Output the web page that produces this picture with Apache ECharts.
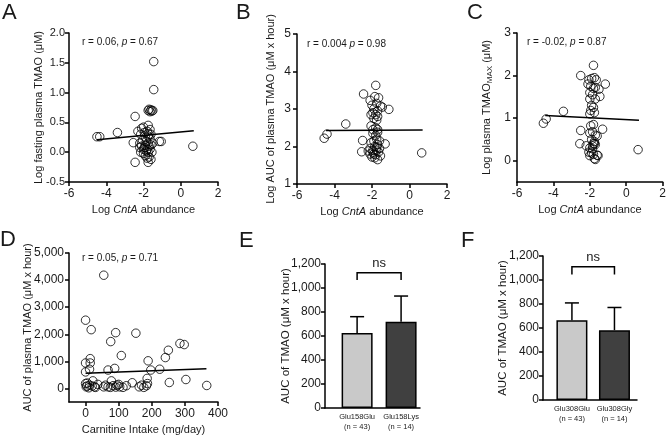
<!DOCTYPE html>
<html>
<head>
<meta charset="utf-8">
<script src="https://cdn.jsdelivr.net/npm/echarts@6/dist/echarts.min.js"></script>
<style>
  html, body { margin: 0; padding: 0; background: #fff; }
  #chart { width: 669px; height: 436px; }
</style>
</head>
<body>
<div id="chart"></div>
<script>
// panel A: log CntA vs log fasting TMAO
const aPoints = [
  [-4.5,0.26],[-4.35,0.26],[-3.4,0.33],[-2.45,0.6],[-2.55,0.16],[-2.45,-0.17],[-1.45,1.52],[-1.45,1.05],
  [-1.75,0.7],[-1.7,0.72],[-1.65,0.68],[-1.6,0.71],[-1.55,0.69],[-1.5,0.7],
  [0.65,0.1],[-1.15,0.18],[-1.05,0.18],
  [-2.1,0.4],[-2.0,0.42],[-1.75,0.45],[-2.15,0.3],[-1.95,0.33],[-1.8,0.35],[-1.7,0.3],[-1.6,0.3],
  [-2.2,0.15],[-2.05,0.2],[-1.9,0.25],[-1.75,0.27],[-1.65,0.22],[-2.2,0.08],[-2.1,0.1],[-2.0,0.05],
  [-1.9,0.12],[-1.85,0.18],[-1.75,0.15],[-1.6,0.12],[-1.5,0.15],[-2.15,0.0],[-2.0,-0.02],[-1.85,0.02],
  [-1.75,0.0],[-1.65,0.05],[-1.9,-0.06],[-1.8,-0.1],[-1.7,-0.08],[-1.75,-0.17],[-1.6,-0.12],[-1.95,0.08],
  [-1.55,0.0],[-2.3,0.35],[-1.65,0.38],[-1.8,0.05],[-1.7,0.1]
];
const aFit = [[-4.5, 0.21], [0.7, 0.36]];

// panel B: log CntA vs log AUC TMAO
const bPoints = [
  [-4.55,2.22],[-4.4,2.33],[-3.4,2.6],[-2.45,3.4],[-2.5,2.16],[-2.55,1.86],[0.65,1.83],[-1.8,3.63],
  [-2.1,3.23],[-1.85,3.33],[-1.65,3.3],[-1.45,3.05],[-1.1,2.99],[-1.55,3.08],[-2.0,3.1],[-1.9,3.0],
  [-1.75,3.15],[-1.7,2.95],[-2.05,2.85],[-1.95,2.9],[-1.8,2.85],[-1.7,2.8],[-1.9,2.75],[-1.75,2.7],
  [-2.05,2.55],[-1.95,2.45],[-1.8,2.5],[-1.7,2.45],[-1.95,2.35],[-1.8,2.3],[-1.7,2.38],
  [-2.05,2.1],[-1.9,2.15],[-1.75,2.2],[-1.7,2.05],[-1.85,2.0],[-1.75,1.98],[-2.1,1.95],[-1.95,1.9],
  [-1.6,1.95],[-1.3,2.07],[-2.1,1.8],[-1.95,1.85],[-1.8,1.78],[-1.65,1.85],[-1.55,1.75],[-2.0,1.72],
  [-1.85,1.7],[-1.7,1.65],[-1.9,1.8],[-1.75,1.9],[-2.2,1.88],[-1.6,2.15]
];
const bFit = [[-4.45, 2.43], [0.7, 2.44]];

// panel C: log CntA vs log TMAO max
const cPoints = [
  [-4.55,0.88],[-4.4,0.98],[-3.45,1.16],[-2.5,2.0],[-2.55,0.4],[-2.5,0.71],[0.65,0.26],[-1.8,2.24],
  [-2.05,1.9],[-1.9,1.93],[-1.75,1.95],[-1.65,1.9],[-1.15,1.8],[-2.1,1.8],[-1.95,1.75],[-1.8,1.7],
  [-1.7,1.72],[-1.5,1.68],[-2.0,1.6],[-1.85,1.55],[-1.7,1.45],[-1.45,1.51],[-2.0,1.45],[-1.9,1.3],
  [-1.8,1.25],[-1.95,1.18],[-1.75,1.13],[-2.0,1.1],
  [-1.8,0.85],[-1.95,0.82],[-1.3,0.74],[-2.0,0.65],[-1.85,0.68],[-1.7,0.6],[-1.6,0.58],[-1.9,0.5],
  [-1.75,0.45],[-1.8,0.4],[-1.7,0.38],[-2.2,0.35],[-2.0,0.3],[-1.85,0.28],[-1.75,0.4],[-2.05,0.2],
  [-1.9,0.18],[-1.8,0.15],[-1.6,0.13],[-2.0,0.12],[-1.75,0.05],[-1.7,0.03],[-1.55,0.12],[-1.85,0.35]
];
const cFit = [[-4.45, 1.06], [0.7, 0.95]];

// panel D: carnitine intake vs AUC TMAO
const dPoints = [
  [55,4180],[0,2520],[17,2170],[91,2060],[76,1730],[152,2040],[108,1215],[14,1100],[0,940],[14,940],
  [12,710],[0,610],[68,680],[88,740],[189,1020],[250,1410],[241,1140],[285,1660],[298,1620],[197,680],
  [224,710],[186,370],[303,330],[253,220],[366,110],[141,210],
  [0,180],[4,90],[10,25],[22,280],[27,60],[37,150],[68,60],[78,280],[83,100],[95,120],[103,60],
  [113,40],[123,100],[162,60],[169,120],[176,40],[184,100],[187,180],[2,60],[12,120],[55,60],[91,50],
  [5,200],[30,40],[60,120],[75,40],[100,150],[20,90]
];
const dFit = [[0, 565], [365, 725]];

// panel E / F: genotype bars (mean, SD)
const eCategories = ['Glu158Glu', 'Glu158Lys'];
const eCounts = [43, 14];
const eMeans = [625, 719];
const eSD = [136, 214];

const fCategories = ['Glu308Glu', 'Glu308Gly'];
const fCounts = [43, 14];
const fMeans = [665, 582];
const fSD = [144, 189];

const yTicksD = [0, 1000, 2000, 3000, 4000, 5000];
const xTicksD = [0, 100, 200, 300, 400];
const yTicksC = [0, 1, 2, 3];

const FONT = 'Liberation Sans, Arial, sans-serif';
const INK = '#1a1a1a';
const axisLine = { show: true, onZero: false, lineStyle: { color: '#000', width: 1.5 } };
const axisTick = { show: true, length: 4, lineStyle: { color: '#000', width: 1.5 } };
const tickLabel = { color: INK, fontSize: 12, fontFamily: FONT };
const nameStyle = { color: INK, fontSize: 11, fontFamily: FONT, rich: { i: { fontStyle: 'italic', fontSize: 11, fontFamily: FONT } } };

function comma(v) { return v.toLocaleString('en-US'); }

function scatterAxisX(grid, name) {
  return {
    gridIndex: grid, type: 'value', min: -6, max: 2, interval: 2,
    axisLine, axisTick, splitLine: { show: false },
    axisLabel: Object.assign({ margin: 6 }, tickLabel),
    name, nameLocation: 'middle', nameGap: 22, nameMoveOverlap: false, nameTextStyle: nameStyle
  };
}

const scatterStyle = { color: 'rgba(0,0,0,0)', borderColor: '#000', borderWidth: 1 };
function scatter(idx, data) {
  return { type: 'scatter', xAxisIndex: idx, yAxisIndex: idx, data, symbol: 'circle', symbolSize: 8.5, itemStyle: scatterStyle, z: 3 };
}
function fitLine(idx, data) {
  return { type: 'line', xAxisIndex: idx, yAxisIndex: idx, data, symbol: 'none', lineStyle: { color: '#000', width: 1.5 }, z: 4 };
}

function errorBars(idx, means, sd) {
  return {
    type: 'custom', xAxisIndex: idx, yAxisIndex: idx, z: 5,
    data: means.map((m, i) => [i, m, sd[i]]),
    renderItem(params, api) {
      const p0 = api.coord([api.value(0), api.value(1)]);
      const p1 = api.coord([api.value(0), api.value(1) + api.value(2)]);
      const st = { stroke: '#000', lineWidth: 1.5 };
      return { type: 'group', children: [
        { type: 'line', shape: { x1: p0[0], y1: p0[1], x2: p1[0], y2: p1[1] }, style: st },
        { type: 'line', shape: { x1: p1[0] - 7, y1: p1[1], x2: p1[0] + 7, y2: p1[1] }, style: st }
      ] };
    }
  };
}

function bracket(idx, level, drop) {
  return {
    type: 'custom', xAxisIndex: idx, yAxisIndex: idx, z: 5,
    data: [[0, 1, level, drop]],
    renderItem(params, api) {
      const a = api.coord([api.value(0), api.value(2)]);
      const b = api.coord([api.value(1), api.value(2)]);
      const c = api.coord([api.value(0), api.value(2) - api.value(3)]);
      return { type: 'group', children: [
        { type: 'polyline', shape: { points: [[a[0], c[1]], a, b, [b[0], c[1]]] }, style: { stroke: '#000', lineWidth: 1.5, fill: null } },
        { type: 'text', x: (a[0] + b[0]) / 2, y: a[1] - 3, style: { text: 'ns', font: '13px ' + FONT, fill: INK, align: 'center', verticalAlign: 'bottom' } }
      ] };
    }
  };
}

function bars(idx, means) {
  return {
    type: 'bar', xAxisIndex: idx, yAxisIndex: idx, barWidth: 31,
    data: means.map((m, i) => [i, m]),
    itemStyle: { color: p => p.dataIndex ? '#404040' : '#c9c9c9', borderColor: '#000', borderWidth: 1.5 }
  };
}

function barAxisX(grid, min, max, cats, counts) {
  return {
    gridIndex: grid, type: 'value', min, max,
    axisLine, axisTick: { show: false }, splitLine: { show: false },
    axisLabel: {
      customValues: [0, 1], color: INK, fontSize: 7.5, fontFamily: FONT, lineHeight: 10, margin: 4,
      hideOverlap: false,
      formatter: v => cats[v] + '\n(n = ' + counts[v] + ')'
    }
  };
}
function barAxisY(grid, gap) {
  return {
    gridIndex: grid, type: 'value', min: 0, max: 1200, interval: 200,
    axisLine, axisTick, splitLine: { show: false },
    axisLabel: Object.assign({}, tickLabel, { margin: 4, formatter: comma }),
    name: 'AUC of TMAO (\u03bcM x hour)', nameLocation: 'middle', nameGap: gap, nameMoveOverlap: false,
    nameTextStyle: Object.assign({}, nameStyle, { fontSize: 11.5 })
  };
}

const letters = [['A', 2, 2], ['B', 236, 2], ['C', 467, 2], ['D', 0, 229], ['E', 239, 230], ['F', 461, 230]];
const stats = [
  ['r = 0.06, {i|p} = 0.67', 82, 37],
  ['r = 0.004 {i|p} = 0.98', 307, 39],
  ['r = -0.02, {i|p} = 0.87', 527, 37],
  ['r = 0.05, {i|p} = 0.71', 82, 253]
];

const option = {
  animation: false,
  backgroundColor: '#fff',
  textStyle: { fontFamily: FONT },
  title: letters.map(l => ({ text: l[0], left: l[1], top: l[2], padding: 0, textStyle: { fontSize: 22, fontWeight: 'normal', color: INK, fontFamily: FONT } }))
    .concat(stats.map(s => ({ text: s[0], left: s[1], top: s[2], padding: 0,
      textStyle: { fontSize: 10, fontWeight: 'normal', color: INK, fontFamily: FONT, rich: { i: { fontStyle: 'italic', fontSize: 10, fontFamily: FONT } } } }))),
  grid: [
    { left: 69, top: 33, width: 149, height: 149 },
    { left: 297, top: 34, width: 150, height: 150 },
    { left: 517, top: 33, width: 149, height: 149 },
    { left: 69, top: 253, width: 149, height: 149 },
    { left: 325, top: 264, width: 95, height: 144 },
    { left: 543, top: 256, width: 94, height: 144 }
  ],
  xAxis: [
    scatterAxisX(0, 'Log {i|CntA} abundance'),
    scatterAxisX(1, 'Log {i|CntA} abundance'),
    scatterAxisX(2, 'Log {i|CntA} abundance'),
    {
      gridIndex: 3, type: 'value', min: -50, max: 400,
      axisLine, axisTick: Object.assign({ customValues: xTicksD }, axisTick), splitLine: { show: false },
      axisLabel: Object.assign({ customValues: xTicksD, margin: 6 }, tickLabel),
      name: 'Carnitine Intake (mg/day)', nameLocation: 'middle', nameGap: 22, nameMoveOverlap: false, nameTextStyle: nameStyle
    },
    barAxisX(4, -0.73, 1.43, eCategories, eCounts),
    barAxisX(5, -0.68, 1.53, fCategories, fCounts)
  ],
  yAxis: [
    {
      gridIndex: 0, type: 'value', min: -0.5, max: 2, interval: 0.5,
      axisLine, axisTick, splitLine: { show: false },
      axisLabel: Object.assign({ formatter: v => v.toFixed(1), margin: 4 }, tickLabel, { fontSize: 11 }),
      name: 'Log fasting plasma TMAO (\u03bcM)', nameLocation: 'middle', nameGap: 25, nameMoveOverlap: false, nameTextStyle: nameStyle
    },
    {
      gridIndex: 1, type: 'value', min: 1, max: 5, interval: 1,
      axisLine, axisTick, splitLine: { show: false },
      axisLabel: Object.assign({ margin: 6 }, tickLabel),
      name: 'Log AUC of plasma TMAO (\u03bcM x hour)', nameLocation: 'middle', nameGap: 21, nameMoveOverlap: false, nameTextStyle: nameStyle
    },
    {
      gridIndex: 2, type: 'value', min: -0.5, max: 3,
      axisLine, axisTick: Object.assign({ customValues: yTicksC }, axisTick), splitLine: { show: false },
      axisLabel: Object.assign({ customValues: yTicksC, margin: 6 }, tickLabel),
      name: 'Log plasma TMAO{s|MAX} (\u03bcM)', nameLocation: 'middle', nameGap: 23, nameMoveOverlap: false,
      nameTextStyle: Object.assign({}, nameStyle, { rich: { s: { fontSize: 8, fontFamily: FONT, color: INK, padding: [7, 0, 0, 0] } } })
    },
    {
      gridIndex: 3, type: 'value', min: -500, max: 5000,
      axisLine, axisTick: Object.assign({ customValues: yTicksD }, axisTick), splitLine: { show: false },
      axisLabel: Object.assign({ customValues: yTicksD, formatter: comma, margin: 5 }, tickLabel),
      name: 'AUC of plasma TMAO (\u03bcM x hour)', nameLocation: 'middle', nameGap: 36, nameMoveOverlap: false, nameTextStyle: nameStyle
    },
    barAxisY(4, 33),
    barAxisY(5, 34)
  ],
  series: [
    scatter(0, aPoints), fitLine(0, aFit),
    scatter(1, bPoints), fitLine(1, bFit),
    scatter(2, cPoints), fitLine(2, cFit),
    scatter(3, dPoints), fitLine(3, dFit),
    bars(4, eMeans), errorBars(4, eMeans, eSD), bracket(4, 1128, 61),
    bars(5, fMeans), errorBars(5, fMeans, fSD), bracket(5, 1110, 65)
  ]
};

const chart = echarts.init(document.getElementById('chart'), null, { renderer: 'canvas' });
chart.setOption(option);
</script>
</body>
</html>
